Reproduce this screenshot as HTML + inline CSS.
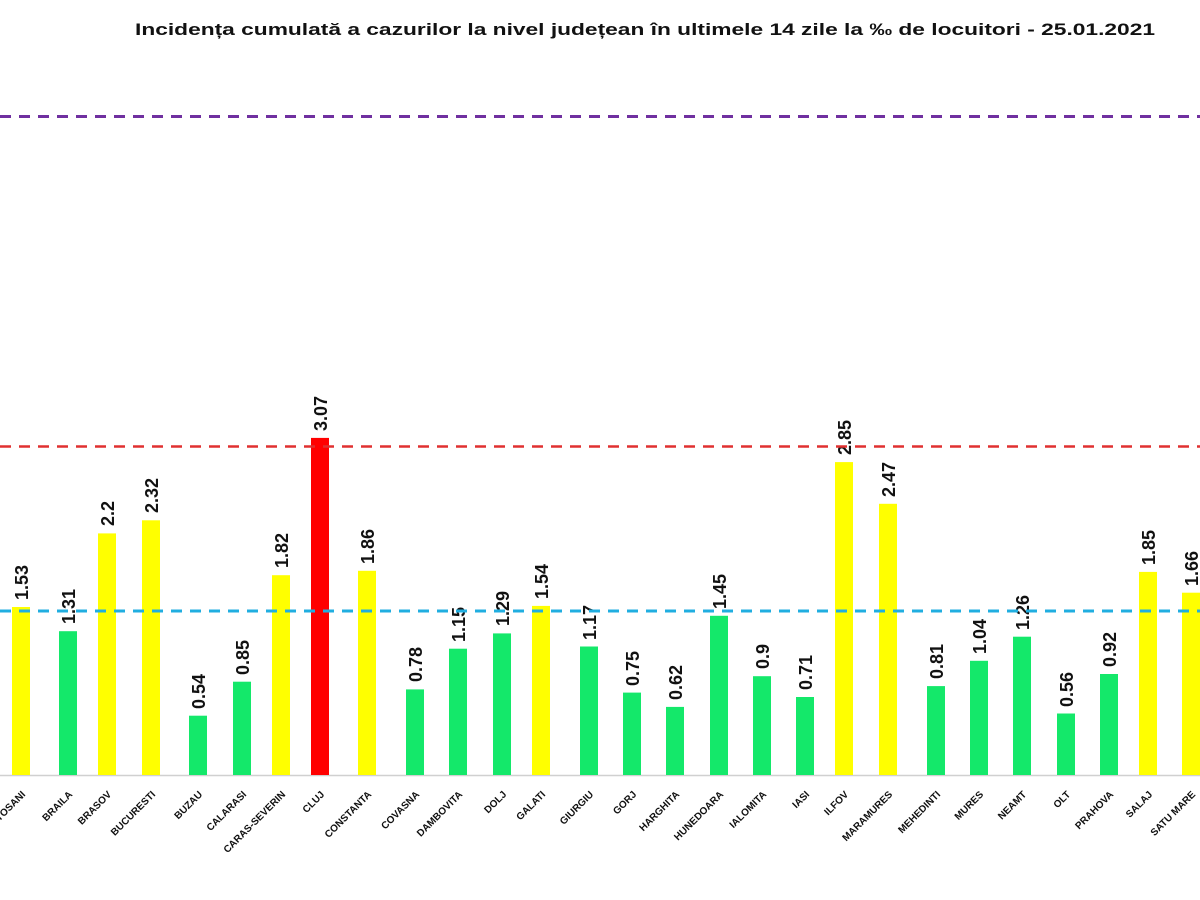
<!DOCTYPE html>
<html><head><meta charset="utf-8"><style>body{margin:0;background:#fff}svg{display:block}</style></head><body>
<svg width="1200" height="900" xmlns="http://www.w3.org/2000/svg" font-family="Liberation Sans, sans-serif">
<rect width="1200" height="900" fill="#fff"/>
<text x="135" y="35" font-size="17" font-weight="bold" fill="#111" textLength="1020" lengthAdjust="spacingAndGlyphs">Incidența cumulată a cazurilor la nivel județean în ultimele 14 zile la ‰ de locuitori - 25.01.2021</text>
<line x1="0" y1="775.5" x2="1200" y2="775.5" stroke="#d0d0d0" stroke-width="1.5"/>
<g>
<rect x="12" y="607" width="18" height="168" fill="#ffff00"/>
<rect x="59" y="631.2" width="18" height="143.8" fill="#14e86a"/>
<rect x="98" y="533.4" width="18" height="241.6" fill="#ffff00"/>
<rect x="142" y="520.3" width="18" height="254.7" fill="#ffff00"/>
<rect x="189" y="715.7" width="18" height="59.3" fill="#14e86a"/>
<rect x="233" y="681.7" width="18" height="93.3" fill="#14e86a"/>
<rect x="272" y="575.2" width="18" height="199.8" fill="#ffff00"/>
<rect x="311" y="437.9" width="18" height="337.1" fill="#ff0000"/>
<rect x="358" y="570.8" width="18" height="204.2" fill="#ffff00"/>
<rect x="406" y="689.4" width="18" height="85.6" fill="#14e86a"/>
<rect x="449" y="648.7" width="18" height="126.3" fill="#14e86a"/>
<rect x="493" y="633.4" width="18" height="141.6" fill="#14e86a"/>
<rect x="532" y="605.9" width="18" height="169.1" fill="#ffff00"/>
<rect x="580" y="646.5" width="18" height="128.5" fill="#14e86a"/>
<rect x="623" y="692.6" width="18" height="82.4" fill="#14e86a"/>
<rect x="666" y="706.9" width="18" height="68.1" fill="#14e86a"/>
<rect x="710" y="615.8" width="18" height="159.2" fill="#14e86a"/>
<rect x="753" y="676.2" width="18" height="98.8" fill="#14e86a"/>
<rect x="796" y="697" width="18" height="78" fill="#14e86a"/>
<rect x="835" y="462.1" width="18" height="312.9" fill="#ffff00"/>
<rect x="879" y="503.8" width="18" height="271.2" fill="#ffff00"/>
<rect x="927" y="686.1" width="18" height="88.9" fill="#14e86a"/>
<rect x="970" y="660.8" width="18" height="114.2" fill="#14e86a"/>
<rect x="1013" y="636.7" width="18" height="138.3" fill="#14e86a"/>
<rect x="1057" y="713.5" width="18" height="61.5" fill="#14e86a"/>
<rect x="1100" y="674" width="18" height="101" fill="#14e86a"/>
<rect x="1139" y="571.9" width="18" height="203.1" fill="#ffff00"/>
<rect x="1182" y="592.7" width="18" height="182.3" fill="#ffff00"/>
</g>
<g font-size="18" font-weight="bold" fill="#111">
<text transform="translate(28,600) rotate(-90)">1.53</text>
<text transform="translate(75,624) rotate(-90)">1.31</text>
<text transform="translate(114,526) rotate(-90)">2.2</text>
<text transform="translate(158,513) rotate(-90)">2.32</text>
<text transform="translate(205,709) rotate(-90)">0.54</text>
<text transform="translate(249,675) rotate(-90)">0.85</text>
<text transform="translate(288,568) rotate(-90)">1.82</text>
<text transform="translate(327,431) rotate(-90)">3.07</text>
<text transform="translate(374,564) rotate(-90)">1.86</text>
<text transform="translate(422,682) rotate(-90)">0.78</text>
<text transform="translate(465,642) rotate(-90)">1.15</text>
<text transform="translate(509,626) rotate(-90)">1.29</text>
<text transform="translate(548,599) rotate(-90)">1.54</text>
<text transform="translate(596,640) rotate(-90)">1.17</text>
<text transform="translate(639,686) rotate(-90)">0.75</text>
<text transform="translate(682,700) rotate(-90)">0.62</text>
<text transform="translate(726,609) rotate(-90)">1.45</text>
<text transform="translate(769,669) rotate(-90)">0.9</text>
<text transform="translate(812,690) rotate(-90)">0.71</text>
<text transform="translate(851,455) rotate(-90)">2.85</text>
<text transform="translate(895,497) rotate(-90)">2.47</text>
<text transform="translate(943,679) rotate(-90)">0.81</text>
<text transform="translate(986,654) rotate(-90)">1.04</text>
<text transform="translate(1029,630) rotate(-90)">1.26</text>
<text transform="translate(1073,707) rotate(-90)">0.56</text>
<text transform="translate(1116,667) rotate(-90)">0.92</text>
<text transform="translate(1155,565) rotate(-90)">1.85</text>
<text transform="translate(1198,586) rotate(-90)">1.66</text>
</g>
<g font-size="10" font-weight="bold" fill="#111" text-anchor="end">
<text transform="translate(26,795) rotate(-45)">BOTOSANI</text>
<text transform="translate(73,795) rotate(-45)">BRAILA</text>
<text transform="translate(112,795) rotate(-45)">BRASOV</text>
<text transform="translate(156,795) rotate(-45)">BUCURESTI</text>
<text transform="translate(203,795) rotate(-45)">BUZAU</text>
<text transform="translate(247,795) rotate(-45)">CALARASI</text>
<text transform="translate(286,795) rotate(-45)">CARAS-SEVERIN</text>
<text transform="translate(325,795) rotate(-45)">CLUJ</text>
<text transform="translate(372,795) rotate(-45)">CONSTANTA</text>
<text transform="translate(420,795) rotate(-45)">COVASNA</text>
<text transform="translate(463,795) rotate(-45)">DAMBOVITA</text>
<text transform="translate(507,795) rotate(-45)">DOLJ</text>
<text transform="translate(546,795) rotate(-45)">GALATI</text>
<text transform="translate(594,795) rotate(-45)">GIURGIU</text>
<text transform="translate(637,795) rotate(-45)">GORJ</text>
<text transform="translate(680,795) rotate(-45)">HARGHITA</text>
<text transform="translate(724,795) rotate(-45)">HUNEDOARA</text>
<text transform="translate(767,795) rotate(-45)">IALOMITA</text>
<text transform="translate(810,795) rotate(-45)">IASI</text>
<text transform="translate(849,795) rotate(-45)">ILFOV</text>
<text transform="translate(893,795) rotate(-45)">MARAMURES</text>
<text transform="translate(941,795) rotate(-45)">MEHEDINTI</text>
<text transform="translate(984,795) rotate(-45)">MURES</text>
<text transform="translate(1027,795) rotate(-45)">NEAMT</text>
<text transform="translate(1071,795) rotate(-45)">OLT</text>
<text transform="translate(1114,795) rotate(-45)">PRAHOVA</text>
<text transform="translate(1153,795) rotate(-45)">SALAJ</text>
<text transform="translate(1196,795) rotate(-45)">SATU MARE</text>
</g>
<line x1="0" y1="116.5" x2="1200" y2="116.5" stroke="#7030a0" stroke-width="3" stroke-dasharray="11 8"/>
<line x1="0" y1="446.5" x2="1200" y2="446.5" stroke="#e03030" stroke-width="2.5" stroke-dasharray="11 8"/>
<line x1="0" y1="611" x2="1200" y2="611" stroke="#20aee0" stroke-width="3" stroke-dasharray="11 8"/>
</svg>
</body></html>
